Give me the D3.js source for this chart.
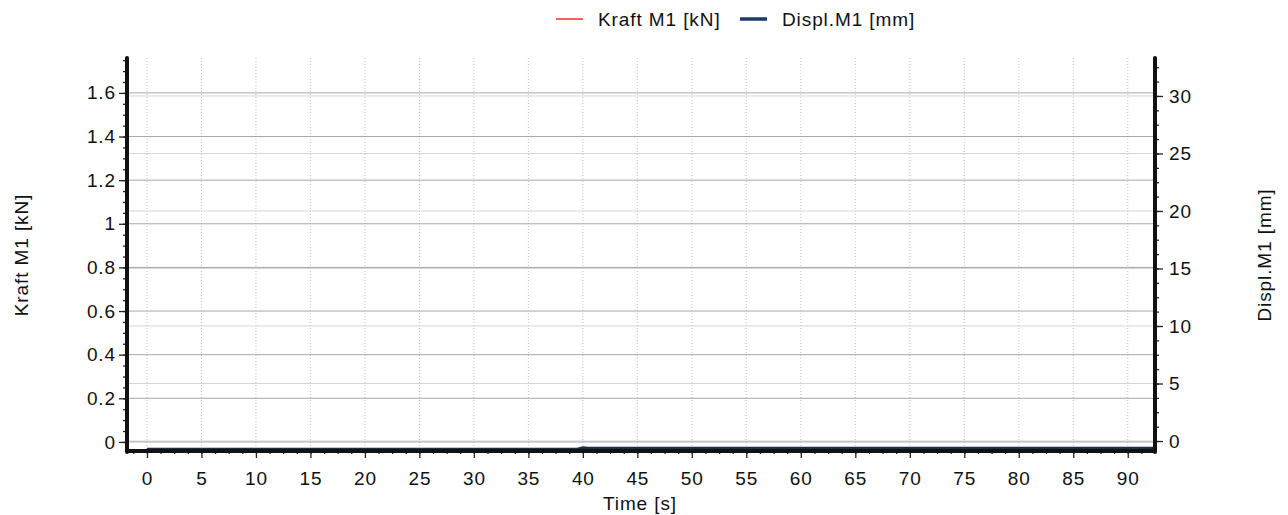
<!DOCTYPE html>
<html>
<head>
<meta charset="utf-8">
<script src="https://cdn.jsdelivr.net/npm/d3@7"></script>
<style>
  body { margin: 0; background: #fff; }
  svg { font-family: "Liberation Sans", Arial, sans-serif; }
</style>
</head>
<body>
<div id="chart"></div>
<script>
"use strict";

// data (both signals sit flat at the bottom)
const timeS   = [0, 10, 20, 30, 39.5, 40, 40.5, 50, 60, 70, 80, 92.5];
const kraftKN = [-0.03, -0.03, -0.03, -0.03, -0.03, -0.028, -0.028, -0.028, -0.028, -0.028, -0.028, -0.028];
const displMm = [-0.72, -0.72, -0.71, -0.71, -0.71, -0.58, -0.62, -0.62, -0.62, -0.62, -0.62, -0.62];

const xTicks = d3.range(0, 91, 5);
const leftTicks = [0, 0.2, 0.4, 0.6, 0.8, 1, 1.2, 1.4, 1.6];
const rightTicks = [0, 5, 10, 15, 20, 25, 30];
const legendItems = ["Kraft M1 [kN]", "Displ.M1 [mm]"];

const width = 1288, height = 515;
const plotL = 127, plotR = 1155, plotT = 58, plotB = 450;
const fontSize = 19, spacing = "0.9px";

const svg = d3.select("#chart").append("svg")
    .attr("width", width)
    .attr("height", height);

const x = d3.scaleLinear().domain([-1.83, 92.5]).range([plotL, plotR]);
const yL = d3.scaleLinear().domain([-0.037, 1.76]).range([plotB, plotT]);
const yR = d3.scaleLinear().domain([-0.78, 33.3]).range([plotB, plotT]);

// grid
const grid = svg.append("g");
grid.selectAll(".gx").data(xTicks).join("line")
    .attr("x1", d => x(d)).attr("x2", d => x(d))
    .attr("y1", plotT).attr("y2", plotB)
    .attr("stroke", "#c4c4c4").attr("stroke-dasharray", "1,2");
grid.selectAll(".gr").data(rightTicks).join("line")
    .attr("x1", plotL).attr("x2", plotR)
    .attr("y1", d => yR(d)).attr("y2", d => yR(d))
    .attr("stroke", "#d6d6d6");
grid.selectAll(".gl").data(leftTicks).join("line")
    .attr("x1", plotL).attr("x2", plotR)
    .attr("y1", d => yL(d)).attr("y2", d => yL(d))
    .attr("stroke", "#a8a8a8");

// series
const kraftLine = d3.line().x((d, i) => x(timeS[i])).y(d => yL(d));
const displLine = d3.line().x((d, i) => x(timeS[i])).y(d => yR(d));

svg.append("path").datum(kraftKN)
    .attr("d", kraftLine)
    .attr("fill", "none").attr("stroke", "#e8321e").attr("stroke-width", 1);
svg.append("path").datum(displMm)
    .attr("d", displLine)
    .attr("fill", "none").attr("stroke", "#1c2e48").attr("stroke-width", 3);

// axes
const fmt = d => String(+d.toFixed(1));

svg.append("g")
    .attr("transform", `translate(0,${plotB})`)
    .call(d3.axisBottom(x).tickValues(xTicks).tickSize(8).tickPadding(14).tickFormat(d3.format("d")));
svg.append("g")
    .attr("transform", `translate(0,${plotB})`)
    .call(d3.axisBottom(x).tickValues(d3.range(-1.25, 92.5, 1.25)).tickSize(4).tickFormat(""));

svg.append("g")
    .attr("transform", `translate(${plotL},0)`)
    .call(d3.axisLeft(yL).tickValues(leftTicks).tickSize(8).tickPadding(3).tickFormat(fmt));
svg.append("g")
    .attr("transform", `translate(${plotL},0)`)
    .call(d3.axisLeft(yL).tickValues(d3.range(0, 1.76, 0.05)).tickSize(4).tickFormat(""));

svg.append("g")
    .attr("transform", `translate(${plotR},0)`)
    .call(d3.axisRight(yR).tickValues(rightTicks).tickSize(8).tickPadding(6));
svg.append("g")
    .attr("transform", `translate(${plotR},0)`)
    .call(d3.axisRight(yR).tickValues(d3.range(0, 33.3, 1.25)).tickSize(4).tickFormat(""));

svg.selectAll(".domain").remove();
svg.selectAll(".tick line").attr("stroke", "#222").attr("stroke-width", 1.3);
svg.selectAll(".tick text").attr("font-size", fontSize).attr("fill", "#111")
    .attr("letter-spacing", spacing)
    .attr("font-family", "Liberation Sans, Arial, sans-serif");

// thick frame lines
svg.append("line").attr("x1", plotL).attr("x2", plotL).attr("y1", plotT).attr("y2", plotB + 2)
    .attr("stroke", "#111").attr("stroke-width", 4).attr("stroke-linecap", "round");
svg.append("line").attr("x1", plotR).attr("x2", plotR).attr("y1", plotT).attr("y2", plotB + 2)
    .attr("stroke", "#111").attr("stroke-width", 4).attr("stroke-linecap", "round");
svg.append("line").attr("x1", plotL).attr("x2", plotR).attr("y1", plotB + 1).attr("y2", plotB + 1)
    .attr("stroke", "#111").attr("stroke-width", 4);

// axis titles
const title = (t, tr) => svg.append("text")
    .attr("transform", tr)
    .attr("text-anchor", "middle").attr("font-size", fontSize).attr("fill", "#111")
    .attr("letter-spacing", spacing)
    .text(t);
title("Kraft M1 [kN]", "translate(28,255) rotate(-90)");
title("Displ.M1 [mm]", "translate(1271,255) rotate(-90)");
title("Time [s]", "translate(640,510)");

// legend
const legendColors = ["#e8321e", "#1c3c64"];
const legendX = [556, 740];
const lg = svg.append("g");
legendItems.forEach((name, i) => {
    lg.append("line")
        .attr("x1", legendX[i]).attr("x2", legendX[i] + 27)
        .attr("y1", 19).attr("y2", 19)
        .attr("stroke", legendColors[i]).attr("stroke-width", i === 0 ? 1.5 : 3.5);
    lg.append("text")
        .attr("x", legendX[i] + 42).attr("y", 26)
        .attr("font-size", fontSize).attr("fill", "#111")
        .attr("letter-spacing", spacing)
        .text(name);
});
</script>
</body>
</html>
